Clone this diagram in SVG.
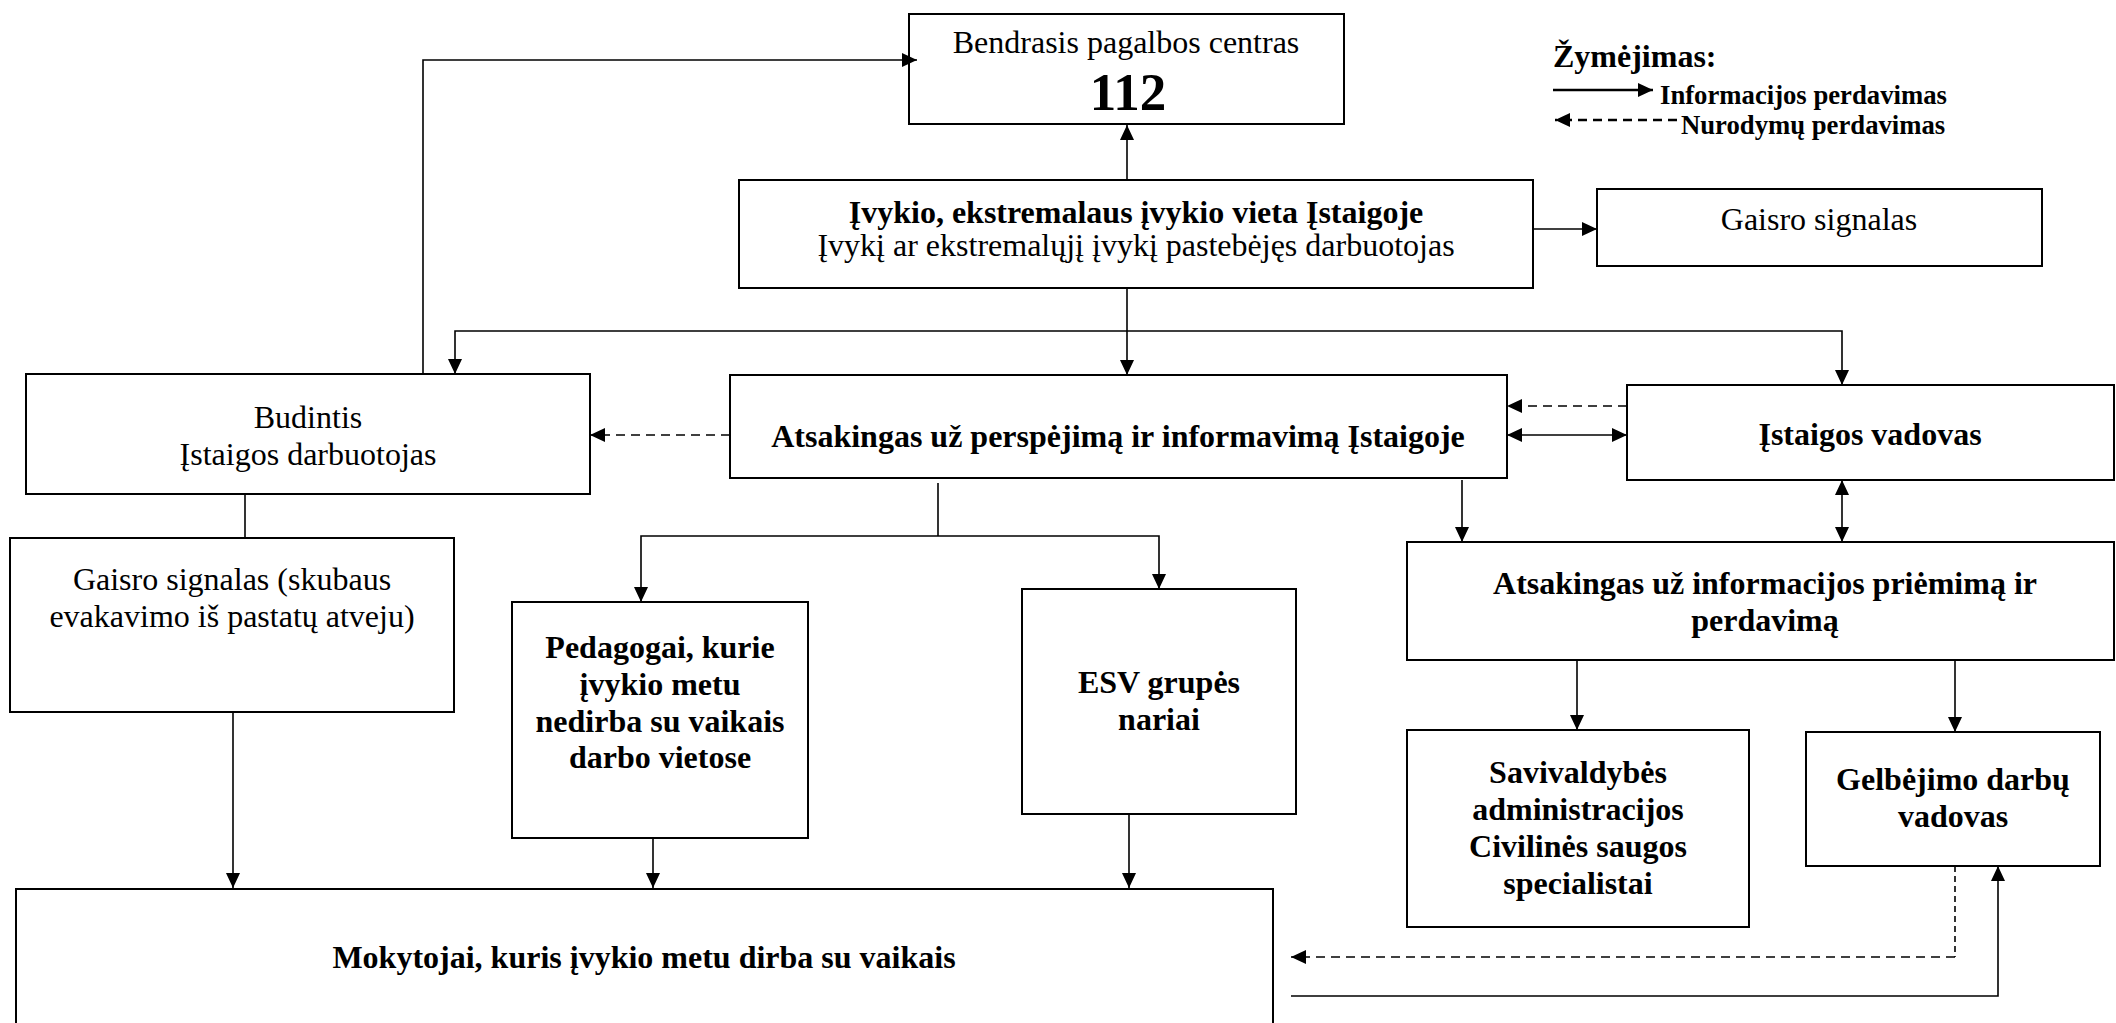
<svg xmlns="http://www.w3.org/2000/svg" width="2116" height="1023" viewBox="0 0 2116 1023">
<defs>
<style>
.box{fill:#fff;stroke:#000;stroke-width:2}
.c{fill:none;stroke:#000;stroke-width:1.6}
.d{stroke-dasharray:9 6}
.t{font-family:"Liberation Serif","Times New Roman",serif;font-size:32px;text-anchor:middle;fill:#000}
.b{font-weight:bold}
.big{font-size:53px}
.lg{font-family:"Liberation Serif","Times New Roman",serif;font-weight:bold;fill:#000}
</style>
<marker id="ah" markerUnits="userSpaceOnUse" markerWidth="16" markerHeight="14" refX="15" refY="7" orient="auto-start-reverse"><path d="M0,0 L15,7 L0,14 z" fill="#000"/></marker>
</defs>
<rect width="2116" height="1023" fill="#fff"/>

<g id="legend">
<text class="lg" x="1553" y="67" font-size="32">Žymėjimas:</text>
<line x1="1553" y1="90" x2="1653" y2="90" stroke="#000" stroke-width="2.5" marker-end="url(#ah)"/>
<text class="lg" x="1660" y="104" font-size="26.7">Informacijos perdavimas</text>
<line x1="1677" y1="120" x2="1555" y2="120" stroke="#000" stroke-width="2.5" stroke-dasharray="9 6" marker-end="url(#ah)"/>
<text class="lg" x="1681" y="134" font-size="26.7">Nurodymų perdavimas</text>
</g>

<g id="n112">
<rect class="box" x="909" y="14" width="435" height="110"/>
<text class="t" x="1126" y="53">Bendrasis pagalbos centras</text>
<text class="t b big" x="1128" y="110">112</text>
</g>

<g id="ivykis">
<rect class="box" x="739" y="180" width="794" height="108"/>
<text class="t b" x="1136" y="223">Įvykio, ekstremalaus įvykio vieta Įstaigoje</text>
<text class="t" x="1136" y="256">Įvykį ar ekstremalųjį įvykį pastebėjęs darbuotojas</text>
</g>

<g id="gaisro">
<rect class="box" x="1597" y="189" width="445" height="77"/>
<text class="t" x="1819" y="230">Gaisro signalas</text>
</g>

<g id="budintis">
<rect class="box" x="26" y="374" width="564" height="120"/>
<text class="t" x="308" y="428">Budintis</text>
<text class="t" x="308" y="465">Įstaigos darbuotojas</text>
</g>

<g id="atsakingas">
<rect class="box" x="730" y="375" width="777" height="103"/>
<text class="t b" x="1118" y="447">Atsakingas už perspėjimą ir informavimą Įstaigoje</text>
</g>

<g id="vadovas">
<rect class="box" x="1627" y="385" width="487" height="95"/>
<text class="t b" x="1870" y="445">Įstaigos vadovas</text>
</g>

<g id="gaisro2">
<rect class="box" x="10" y="538" width="444" height="174"/>
<text class="t" x="232" y="590">Gaisro signalas (skubaus</text>
<text class="t" x="232" y="627">evakavimo iš pastatų atveju)</text>
</g>

<g id="pedagogai">
<rect class="box" x="512" y="602" width="296" height="236"/>
<text class="t b" x="660" y="658">Pedagogai, kurie</text>
<text class="t b" x="660" y="695">įvykio metu</text>
<text class="t b" x="660" y="732">nedirba su vaikais</text>
<text class="t b" x="660" y="768">darbo vietose</text>
</g>

<g id="esv">
<rect class="box" x="1022" y="589" width="274" height="225"/>
<text class="t b" x="1159" y="693">ESV grupės</text>
<text class="t b" x="1159" y="730">nariai</text>
</g>

<g id="info">
<rect class="box" x="1407" y="542" width="707" height="118"/>
<text class="t b" x="1765" y="594">Atsakingas už informacijos priėmimą ir</text>
<text class="t b" x="1765" y="631">perdavimą</text>
</g>

<g id="savivaldybe">
<rect class="box" x="1407" y="730" width="342" height="197"/>
<text class="t b" x="1578" y="783">Savivaldybės</text>
<text class="t b" x="1578" y="820">administracijos</text>
<text class="t b" x="1578" y="857">Civilinės saugos</text>
<text class="t b" x="1578" y="894">specialistai</text>
</g>

<g id="gelbejimo">
<rect class="box" x="1806" y="732" width="294" height="134"/>
<text class="t b" x="1953" y="790">Gelbėjimo darbų</text>
<text class="t b" x="1953" y="827">vadovas</text>
</g>

<g id="mokytojai">
<rect class="box" x="16" y="889" width="1257" height="150"/>
<text class="t b" x="644" y="968">Mokytojai, kuris įvykio metu dirba su vaikais</text>
</g>

<g id="connectors">
<polyline class="c" points="423,374 423,60 917,60" marker-end="url(#ah)"/>
<line class="c" x1="1127" y1="180" x2="1127" y2="125" marker-end="url(#ah)"/>
<line class="c" x1="1533" y1="229" x2="1597" y2="229" stroke-width="2.2" marker-end="url(#ah)"/>
<line class="c" x1="1127" y1="288" x2="1127" y2="375" marker-end="url(#ah)"/>
<polyline class="c" points="455,374 455,331 1842,331 1842,385" marker-start="url(#ah)" marker-end="url(#ah)"/>
<line class="c d" x1="730" y1="435" x2="590" y2="435" marker-end="url(#ah)"/>
<line class="c d" x1="1627" y1="406" x2="1507" y2="406" marker-end="url(#ah)"/>
<line class="c" x1="1507" y1="435" x2="1627" y2="435" stroke-width="2" marker-start="url(#ah)" marker-end="url(#ah)"/>
<line class="c" x1="245" y1="494" x2="245" y2="538"/>
<line class="c" x1="233" y1="712" x2="233" y2="888" marker-end="url(#ah)"/>
<line class="c" x1="938" y1="483" x2="938" y2="536"/>
<polyline class="c" points="641,602 641,536 1159,536 1159,589" marker-start="url(#ah)" marker-end="url(#ah)"/>
<line class="c" x1="653" y1="838" x2="653" y2="888" marker-end="url(#ah)"/>
<line class="c" x1="1129" y1="814" x2="1129" y2="888" marker-end="url(#ah)"/>
<line class="c" x1="1462" y1="480" x2="1462" y2="542" marker-end="url(#ah)"/>
<line class="c" x1="1842" y1="480" x2="1842" y2="542" marker-start="url(#ah)" marker-end="url(#ah)"/>
<line class="c" x1="1577" y1="660" x2="1577" y2="730" marker-end="url(#ah)"/>
<line class="c" x1="1955" y1="660" x2="1955" y2="732" marker-end="url(#ah)"/>
<polyline class="c" points="1955,866 1955,957" stroke-width="1" stroke-dasharray="6 4"/>
<line class="c d" x1="1955" y1="957" x2="1291" y2="957" stroke-width="2" marker-end="url(#ah)"/>
<polyline class="c" points="1291,996 1998,996 1998,866" stroke-width="2" marker-end="url(#ah)"/>
</g>
</svg>
